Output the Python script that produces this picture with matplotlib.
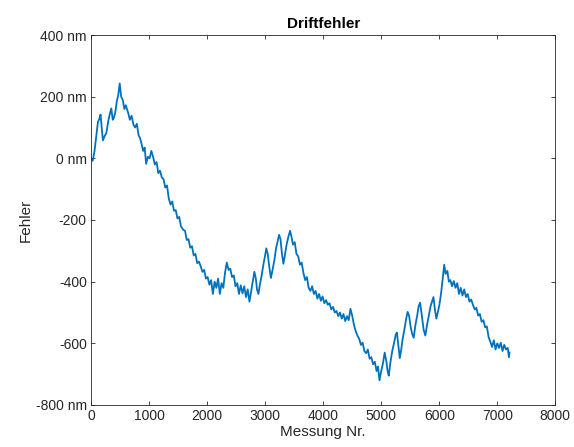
import matplotlib
matplotlib.use("Agg")
import matplotlib.pyplot as plt

# Driftfehler
messung = [0, 30, 60, 90, 120, 145, 165, 185, 205, 235, 265, 295, 320, 350, 375, 395, 420, 445, 470, 495,
           520, 550, 575, 600, 640, 670, 700, 730, 760, 790, 820, 845, 870, 900, 925, 950, 980, 1010, 1040, 1070,
           1100, 1130, 1160, 1190, 1220, 1250, 1280, 1310, 1340, 1370, 1400, 1430, 1460, 1490, 1520, 1550, 1590, 1620, 1650, 1680,
           1710, 1740, 1770, 1800, 1830, 1860, 1890, 1920, 1950, 1980, 2010, 2040, 2070, 2100, 2130, 2160, 2190, 2220, 2250, 2280,
           2310, 2340, 2370, 2400, 2430, 2460, 2490, 2520, 2550, 2580, 2610, 2640, 2670, 2700, 2730, 2760, 2790, 2815, 2840, 2860,
           2885, 2910, 2940, 2970, 3000, 3020, 3045, 3070, 3100, 3130, 3160, 3190, 3215, 3240, 3265, 3290, 3315, 3340, 3370, 3400,
           3430, 3455, 3480, 3510, 3540, 3570, 3600, 3630, 3660, 3690, 3720, 3750, 3780, 3810, 3840, 3870, 3900, 3930, 3960, 3990,
           4020, 4050, 4080, 4110, 4140, 4170, 4200, 4230, 4260, 4290, 4320, 4350, 4380, 4410, 4440, 4470, 4500, 4530, 4560, 4590,
           4620, 4650, 4680, 4710, 4740, 4770, 4800, 4830, 4860, 4890, 4920, 4945, 4970, 5000, 5030, 5060, 5090, 5110, 5130, 5160,
           5190, 5220, 5250, 5270, 5295, 5320, 5345, 5370, 5400, 5430, 5455, 5480, 5510, 5535, 5560, 5590, 5620, 5645, 5670, 5700,
           5730, 5760, 5790, 5820, 5850, 5880, 5900, 5925, 5950, 5975, 6000, 6030, 6060, 6085, 6110, 6140, 6165, 6190, 6220, 6250,
           6280, 6310, 6340, 6370, 6400, 6430, 6460, 6490, 6520, 6550, 6580, 6610, 6640, 6670, 6700, 6730, 6760, 6790, 6820, 6850,
           6880, 6910, 6940, 6970, 7000, 7030, 7060, 7090, 7120, 7150, 7180, 7200, 7210]
fehler = [0, -8, 22, 70, 118, 128, 142, 100, 58, 72, 82, 118, 140, 162, 125, 132, 150, 185, 205, 243,
          200, 188, 160, 172, 148, 125, 138, 110, 100, 112, 75, 66, 48, 24, 35, -18, 5, 0, 24, 5,
          -20, -12, -48, -40, -62, -68, -95, -88, -130, -150, -140, -170, -168, -195, -190, -220, -232, -235, -265, -262,
          -290, -285, -315, -310, -340, -335, -350, -368, -362, -390, -385, -410, -395, -440, -400, -420, -390, -440, -405, -420,
          -370, -338, -362, -358, -385, -380, -415, -405, -440, -412, -438, -415, -450, -425, -465, -430, -395, -368, -390, -425,
          -440, -410, -380, -345, -315, -292, -310, -350, -388, -360, -330, -290, -270, -248, -262, -310, -342, -315, -280, -255,
          -235, -255, -280, -272, -310, -318, -345, -338, -372, -395, -385, -420, -430, -415, -440, -430, -455, -440, -462, -448,
          -470, -460, -475, -470, -490, -482, -500, -495, -512, -500, -520, -505, -528, -512, -525, -488, -510, -540, -560, -575,
          -585, -605, -598, -625, -632, -620, -650, -645, -668, -660, -690, -675, -720, -690, -665, -630, -660, -690, -705, -660,
          -625, -600, -572, -565, -605, -648, -620, -585, -555, -520, -498, -510, -550, -570, -582, -540, -510, -480, -468, -510,
          -555, -575, -540, -510, -480, -462, -450, -490, -520, -500, -478, -440, -390, -345, -375, -365, -400, -395, -415, -398,
          -420, -405, -440, -420, -445, -425, -450, -440, -465, -458, -475, -490, -485, -510, -505, -530, -525, -548, -545, -580,
          -595, -612, -590, -620, -600, -615, -598, -625, -605, -620, -615, -645, -630]

x_ticks = [0, 1000, 2000, 3000, 4000, 5000, 6000, 7000, 8000]
y_ticks = [400, 200, 0, -200, -400, -600, -800]
y_labels = ["400 nm", "200 nm", "0 nm", "-200", "-400", "-600", "-800 nm"]

plt.rcParams["font.family"] = ["Liberation Sans", "DejaVu Sans"]
grau = "#262626"

fig = plt.figure(figsize=(5.74, 4.47), dpi=100)
ax = fig.add_axes([0.1585, 0.094, 0.809, 0.8277])
ax.plot(messung, fehler, color="#0072BD", linewidth=1.3)

ax.set_xlim(0, 8000)
ax.set_ylim(-800, 400)
ax.set_xticks(x_ticks)
ax.set_xticklabels([str(t) for t in x_ticks])
ax.set_yticks(y_ticks)
ax.set_yticklabels(y_labels)
ax.tick_params(direction="in", top=True, right=True, length=3, width=0.6,
               colors=grau, labelsize=10, pad=3)
for s in ax.spines.values():
    s.set_color(grau)
    s.set_linewidth(0.6)

ax.set_title("Driftfehler", fontsize=11, fontweight="bold", color="black", pad=5)
ax.set_xlabel("Messung Nr.", fontsize=11, color=grau, labelpad=1)
ax.set_ylabel("Fehler", fontsize=11, color=grau, labelpad=2)

fig.savefig("out.png", dpi=100)
